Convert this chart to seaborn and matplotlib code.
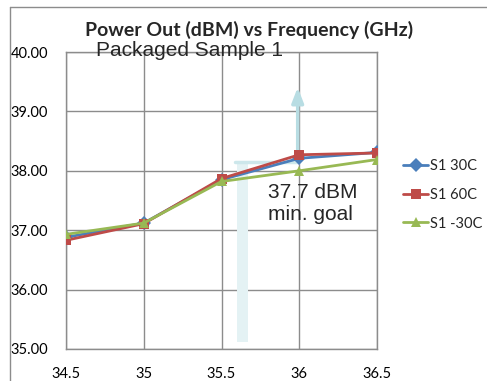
import matplotlib
matplotlib.use("Agg")
import matplotlib.pyplot as plt
from matplotlib.lines import Line2D
import seaborn as sns
import pandas as pd

freq = [34.5, 35.0, 35.5, 36.0, 36.5]
s1_30c = [36.88, 37.12, 37.85, 38.21, 38.31]
s1_60c = [36.83, 37.11, 37.87, 38.27, 38.30]
s1_m30c = [36.93, 37.12, 37.82, 38.00, 38.19]
series_names = ["S1 30C", "S1 60C", "S1 -30C"]
colors = ["#4a7ebb", "#be4b48", "#98b954"]
marker_list = ["D", "s", "^"]
y_ticks = [35.0, 36.0, 37.0, 38.0, 39.0, 40.0]
x_ticks = [34.5, 35.0, 35.5, 36.0, 36.5]

rows = []
for name, vals in zip(series_names, [s1_30c, s1_60c, s1_m30c]):
    for f, v in zip(freq, vals):
        rows.append({"Frequency": f, "Power": v, "Series": name})
df = pd.DataFrame(rows)

sns.set_style("white")
plt.rcParams["font.family"] = ["Lato", "DejaVu Sans"]

fig = plt.figure(figsize=(4.87, 3.81), dpi=100)
ax = fig.add_axes([66/487, 32/381, 311/487, 297/381])

# light blue annotation (goal marker)
ax.fill_between([35.60, 35.67], 35.12, 38.15, color="#e4f2f4", lw=0, zorder=1)
ax.plot([35.59, 36.0], [38.15, 38.15], color="#cde7eb", lw=2.5, zorder=1)
ax.annotate("", xy=(35.99, 39.45), xytext=(35.99, 38.15),
            arrowprops=dict(arrowstyle="-|>,head_width=0.35,head_length=0.9",
                            color="#b8dde3", lw=2.5), zorder=2)

sns.lineplot(data=df, x="Frequency", y="Power", hue="Series", style="Series",
             palette=dict(zip(series_names, colors)),
             markers=dict(zip(series_names, marker_list)), dashes=False,
             markersize=7, markeredgewidth=0, lw=2, ax=ax, legend=False, zorder=3)

ax.set_xlim(34.5, 36.5)
ax.set_ylim(35.0, 40.0)
ax.set_xticks(x_ticks)
ax.set_xticklabels(["34.5", "35", "35.5", "36", "36.5"])
ax.set_yticks(y_ticks)
ax.set_yticklabels([f"{t:.2f}" for t in y_ticks])
ax.grid(True, color="#8c8c8c", lw=1)
ax.set_axisbelow(True)
for s in ax.spines.values():
    s.set_color("#8c8c8c")
    s.set_linewidth(1)
ax.tick_params(axis="both", which="both", direction="out", length=5, width=1,
               color="#8c8c8c", labelsize=10.5, labelcolor="black")
ax.tick_params(axis="y", pad=8)
ax.tick_params(axis="x", pad=8)
ax.set_xlabel("")
ax.set_ylabel("")

ax.text(35.8, 37.80, "37.7 dBM\nmin. goal", fontsize=15, family=["Liberation Sans"],
        va="top", ha="left", linespacing=1.2, zorder=4)

fig.text(249/487, 1 - 30/381, "Power Out (dBM) vs Frequency (GHz)", ha="center",
         va="center", fontsize=14, fontweight="bold")
fig.text(96/487, 1 - 50/381, "Packaged Sample 1", ha="left", va="center",
         fontsize=15, family=["Liberation Sans"])

# legend
handles = [Line2D([0], [0], color=c, marker=m, lw=2, markersize=7, markeredgewidth=0)
           for c, m in zip(colors, marker_list)]
fig.legend(handles, series_names, loc="center left",
           bbox_to_anchor=(396/487, 1 - 195/381), frameon=False, fontsize=10.5,
           handlelength=1.7, handletextpad=0.1, labelspacing=1.0, borderpad=0)

# chart-area border
fig.add_artist(Line2D([10/487, 10/487], [0, 1 - 7/381], transform=fig.transFigure,
                      color="#8c8c8c", lw=1))
fig.add_artist(Line2D([10/487, 1], [1 - 7/381, 1 - 7/381], transform=fig.transFigure,
                      color="#8c8c8c", lw=1))

fig.savefig("out.png", dpi=100)
